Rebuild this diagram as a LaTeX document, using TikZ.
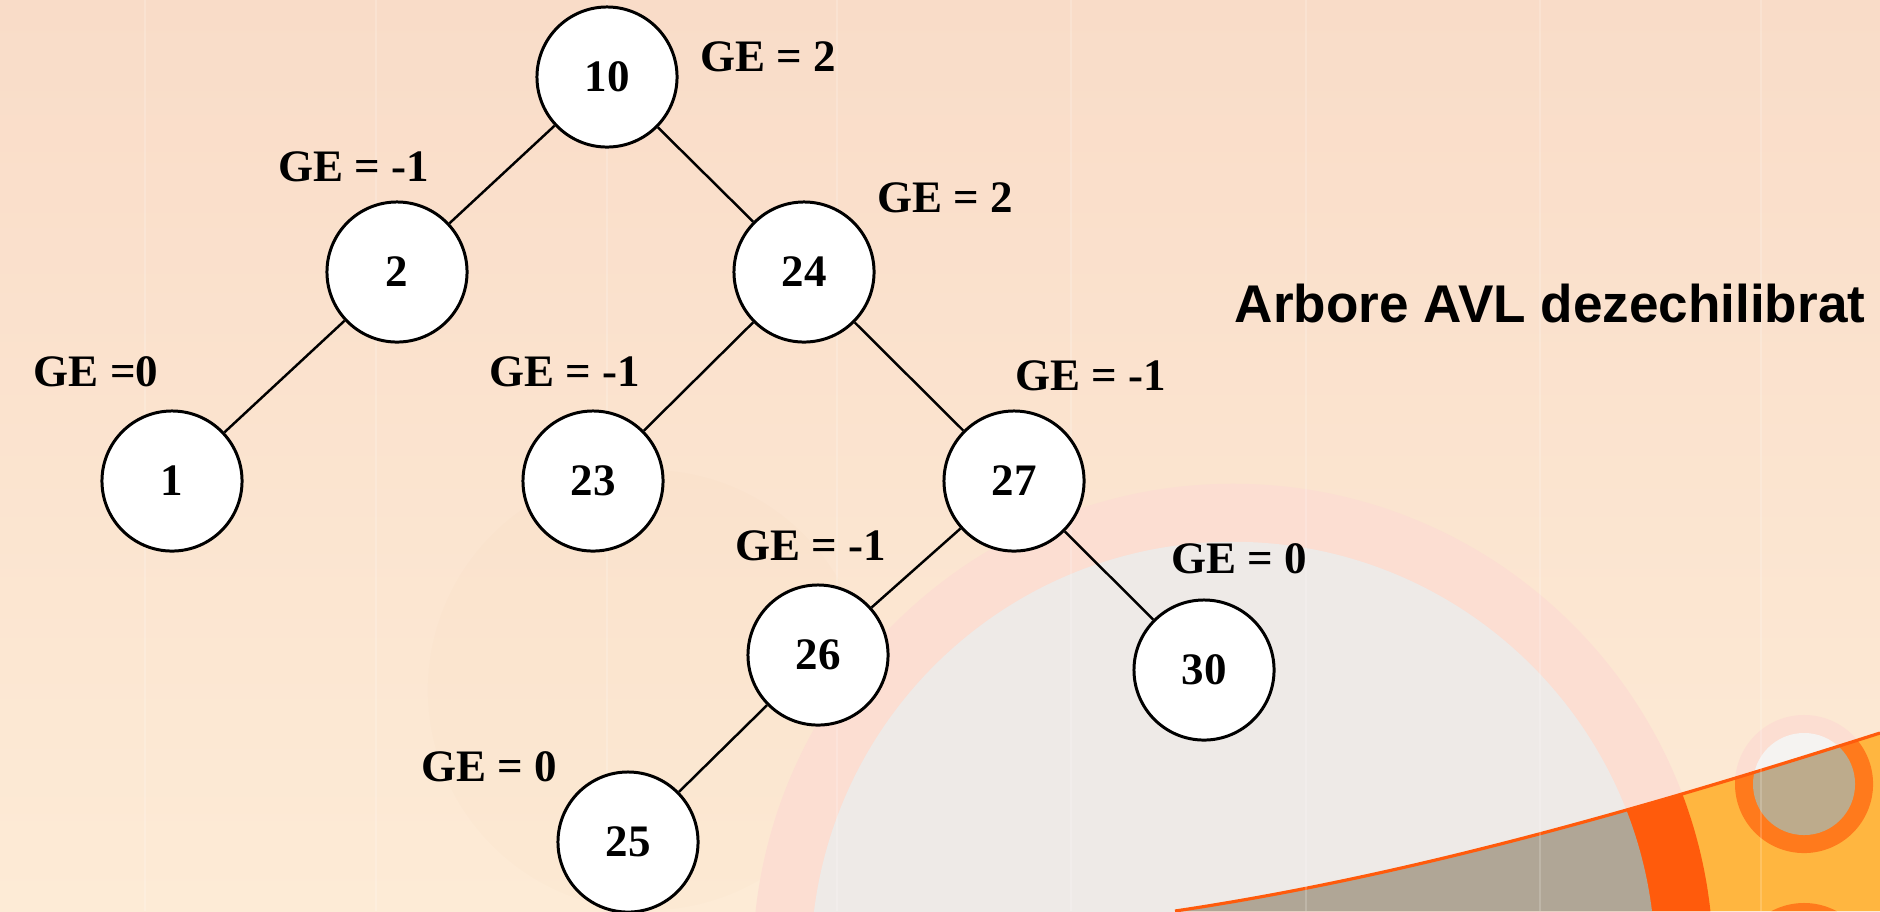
\documentclass[tikz,border=0pt]{standalone}
\usepackage{fontspec}
\newfontfamily\treefont{Liberation Serif}
\newfontfamily\headfont{Liberation Sans}

\definecolor{bgtop}{HTML}{F9DCC8}
\definecolor{bgbottom}{HTML}{FDEBD6}
\definecolor{ringpink}{HTML}{FCDED2}
\definecolor{discgray}{HTML}{EEEAE7}
\definecolor{bandgold}{HTML}{FFB640}
\definecolor{bandorange}{HTML}{FF5B0C}
\definecolor{bandtaupe}{HTML}{B0A696}
\definecolor{dotorange}{HTML}{FF7A1C}
\definecolor{dottaupe}{HTML}{BDAB8C}

\def\bigring{(1233,964) circle (4.8cm)}
\def\bigdisc{(1233,964) circle (4.22cm)}
\def\dotring{(1804,784) circle (0.69cm)}
\def\dotdisc{(1804,784) circle (0.51cm)}
\def\lowdot{(1804,972) circle (0.69cm)}
\def\bandedge{(1175,911) .. controls (1410,876) and (1645,808) .. (1880,733)}

\tikzset{
    key/.style={circle, draw, line width=0.85pt, fill=white, minimum size=1.4cm,
        inner sep=0pt, font=\treefont\bfseries\fontsize{12.8}{14}\selectfont},
    ge/.style={inner sep=0pt, font=\treefont\bfseries\fontsize{12.8}{14}\selectfont},
    link/.style={line width=0.7pt},
    stripe/.style={white, opacity=0.18, line width=0.8pt},
}

\begin{document}
\begin{tikzpicture}[x=0.01cm, y=-0.01cm]
    \useasboundingbox (0,0) rectangle (1880,911);

    %% Slide background
    \shade[top color=bgtop, bottom color=bgbottom] (0,0) rectangle (1880,911);
    \fill[brown, opacity=0.015] (648,690) circle (2.2cm);
    \fill[ringpink] \bigring;
    \fill[discgray] \bigdisc;
    \fill[ringpink] \dotring;
    \fill[discgray!60!white] \dotdisc;
    \begin{scope}
        \clip \bandedge -- (1880,911) -- cycle;
        \fill[bandgold] (1100,600) rectangle (1880,911);
        \fill[bandorange] \bigring;
        \fill[bandtaupe] \bigdisc;
        \fill[dotorange] \dotring;
        \fill[dottaupe] \dotdisc;
        \fill[dotorange] \lowdot;
    \end{scope}
    \draw[bandorange, line width=0.9pt] \bandedge;
    \foreach \sx in {145,376,607,837,1071,1306,1540,1761}
        \draw[stripe] (\sx,0) -- (\sx,911);

    %% The tree
    \node[key] (n10) at (607,77) {10};
    \node[key] (n2) at (397,272) {2};
    \node[key] (n24) at (804,272) {24};
    \node[key] (n1) at (172,481) {1};
    \node[key] (n23) at (593,481) {23};
    \node[key] (n27) at (1014,481) {27};
    \node[key] (n26) at (818,655) {26};
    \node[key] (n30) at (1204,670) {30};
    \node[key] (n25) at (628,842) {25};

    \draw[link] (n10) -- (n2);
    \draw[link] (n10) -- (n24);
    \draw[link] (n2) -- (n1);
    \draw[link] (n24) -- (n23);
    \draw[link] (n24) -- (n27);
    \draw[link] (n27) -- (n26);
    \draw[link] (n27) -- (n30);
    \draw[link] (n26) -- (n25);

    %% Balance factors
    \node[ge] (ge10) at (768,57) {GE = 2};
    \node[ge] (ge2) at (354,167) {GE = -1};
    \node[ge] (ge24) at (945,198) {GE = 2};
    \node[ge] (ge1) at (96,372) {GE =0};
    \node[ge] (ge23) at (565,372) {GE = -1};
    \node[ge] (ge27) at (1091,376) {GE = -1};
    \node[ge] (ge26) at (811,546) {GE = -1};
    \node[ge] (ge30) at (1239,559) {GE = 0};
    \node[ge] (ge25) at (489,767) {GE = 0};

    %% Caption
    \node[inner sep=0pt, font=\headfont\bfseries\fontsize{15.1}{18}\selectfont] (title) at (1550,304) {Arbore AVL dezechilibrat};
\end{tikzpicture}
\end{document}
